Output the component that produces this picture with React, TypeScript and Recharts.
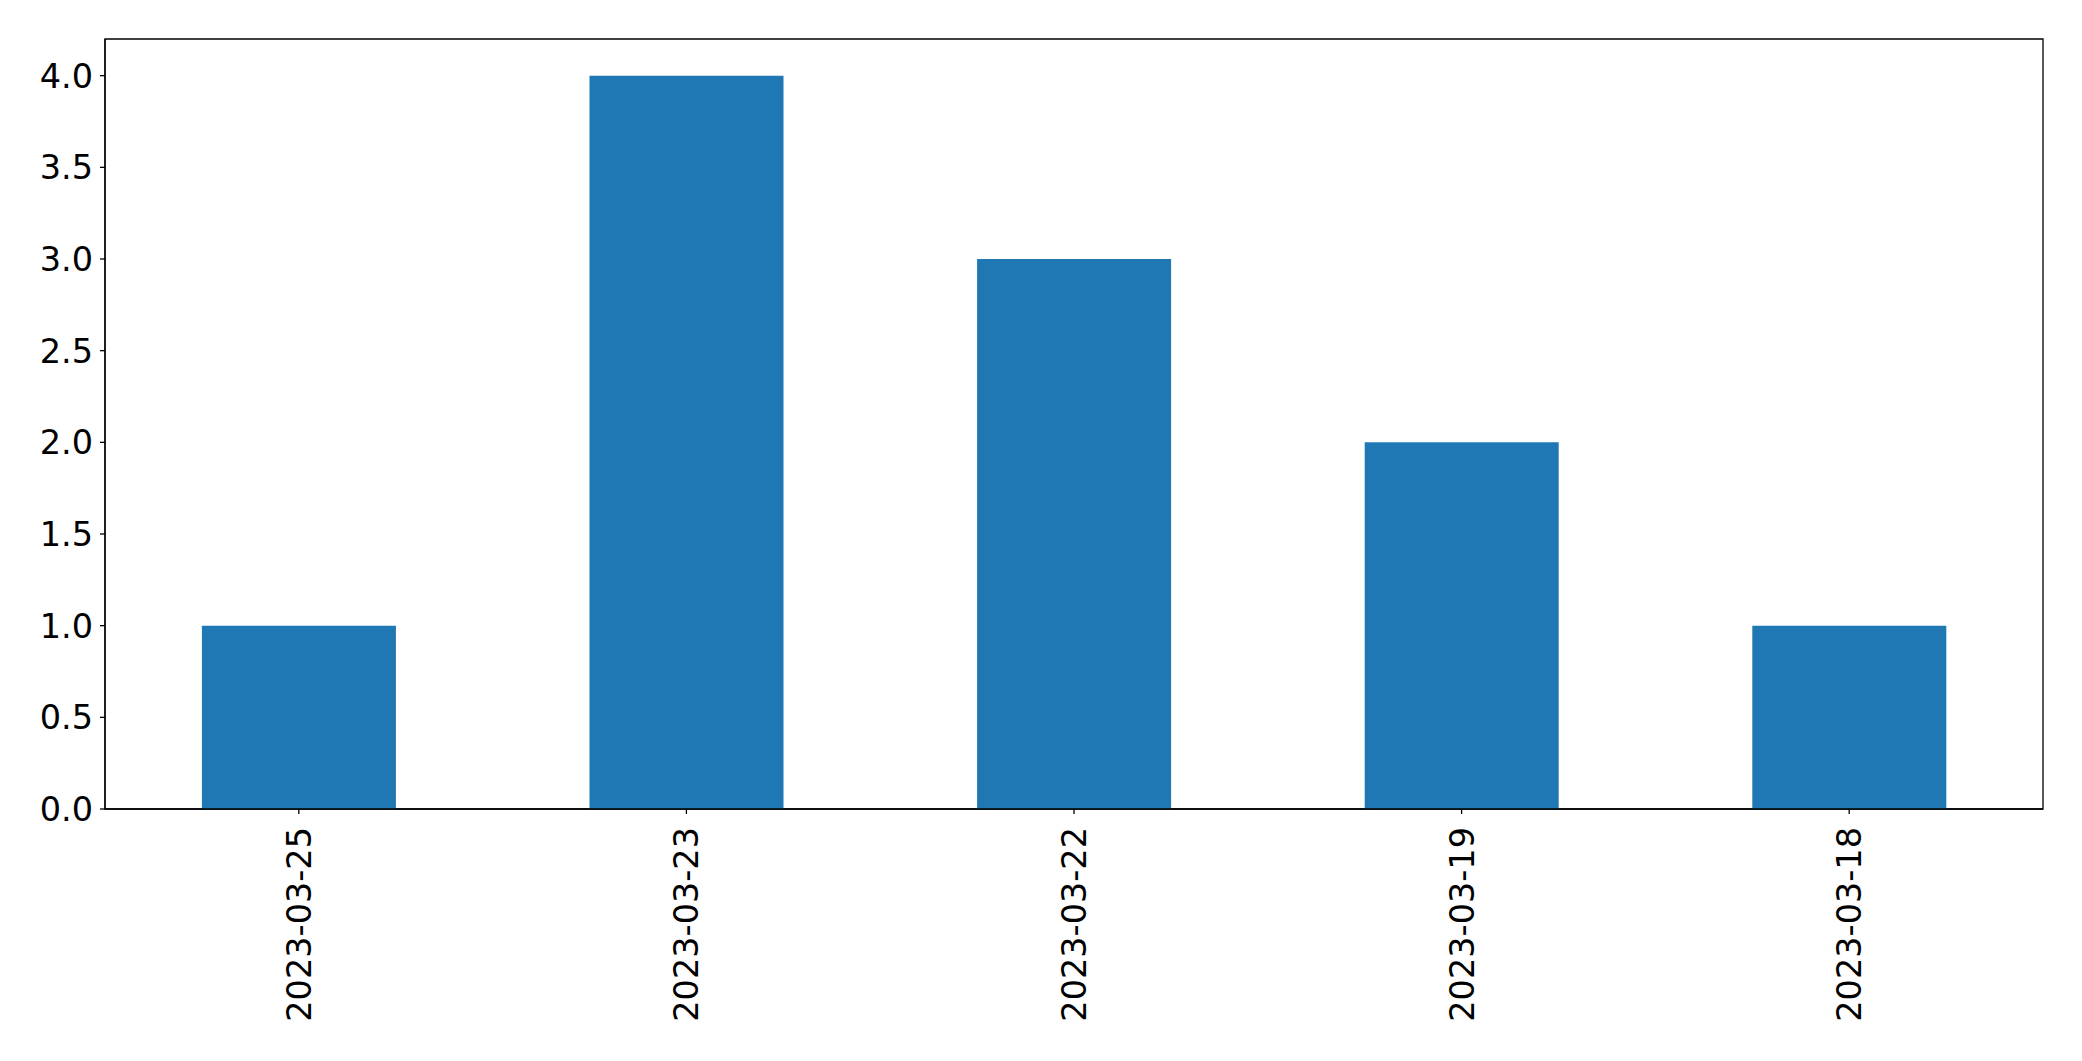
import * as React from "react"
import { BarChart, Bar, XAxis, YAxis, ReferenceArea } from "recharts"

const dates = ["2023-03-25", "2023-03-23", "2023-03-22", "2023-03-19", "2023-03-18"]
const counts = [1, 4, 3, 2, 1]
const yTicks = [0, 0.5, 1, 1.5, 2, 2.5, 3, 3.5, 4]

const data = dates.map((d, i) => ({ date: d, count: counts[i] }))

const FONT = "DejaVu Sans, sans-serif"

// rotated date labels, anchored at their end just below the tick
function DateTick(props: any) {
  const { x, y, payload } = props
  return (
    <text
      x={x}
      y={y}
      transform={`rotate(-90, ${x}, ${y})`}
      textAnchor="end"
      dy="0.36em"
      fill="#000"
      fontSize={33.5}
      fontFamily={FONT}
    >
      {payload.value}
    </text>
  )
}

export default function App() {
  return (
    <div style={{ position: "absolute", left: 0, top: 0, background: "#fff" }}>
      <BarChart
        width={2082}
        height={1061}
        data={data}
        margin={{ top: 39, right: 39, left: 0, bottom: 0 }}
        barCategoryGap="25%"
      >
        <XAxis
          dataKey="date"
          height={252}
          interval={0}
          tickSize={5}
          tickMargin={13}
          tick={<DateTick />}
          axisLine={{ stroke: "#000", strokeWidth: 1.3 }}
          tickLine={{ stroke: "#000", strokeWidth: 1.3 }}
        />
        <YAxis
          width={105}
          domain={[0, 4.2]}
          ticks={yTicks}
          interval={0}
          tickSize={5}
          tickMargin={7}
          tickFormatter={(v: number) => v.toFixed(1)}
          tick={{ fill: "#000", fontSize: 33.5, fontFamily: FONT }}
          axisLine={{ stroke: "#000", strokeWidth: 1.3 }}
          tickLine={{ stroke: "#000", strokeWidth: 1.3 }}
        />
        {/* frame around the plot area */}
        <ReferenceArea y1={0} y2={4.2} fill="none" fillOpacity={0} stroke="#000" strokeWidth={1.3} strokeOpacity={1} />
        <Bar dataKey="count" fill="#1f77b4" isAnimationActive={false} />
      </BarChart>
    </div>
  )
}
